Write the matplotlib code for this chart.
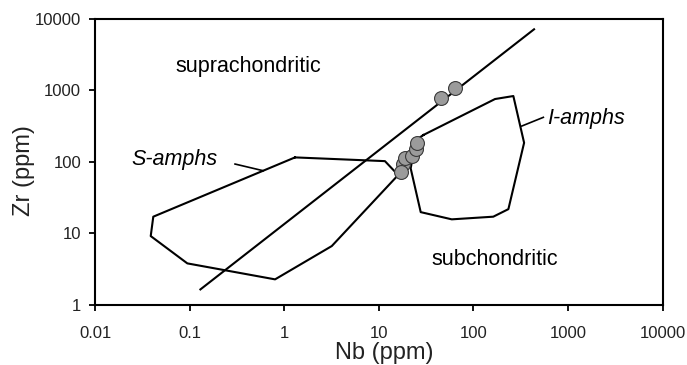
import matplotlib
matplotlib.use("Agg")
import matplotlib.pyplot as plt

plt.rcParams['font.family'] = ['Liberation Sans', 'DejaVu Sans']

# chondritic reference line (Nb, Zr)
line_nb = [0.13, 437]
line_zr = [1.65, 7070]

# S-type amphibole field outline
s_nb = [1.30, 11.6, 16.0, 3.18, 0.80, 0.0946, 0.0388, 0.0413, 1.30]
s_zr = [115, 102, 65.2, 6.65, 2.28, 3.81, 9.17, 17.1, 115]

# I-type amphibole field outline
i_nb = [29.5, 169, 264, 343, 234, 162, 59.0, 27.7, 21.7, 24.7, 29.5]
i_zr = [236, 751, 827, 184, 21.8, 17.1, 15.7, 19.8, 80.9, 201, 236]

# samples
pt_nb = [45.4, 63.9, 17.9, 18.9, 22.6, 24.5, 17.1, 25.5]
pt_zr = [783, 1070, 92, 113.7, 121, 150, 72.5, 180.7]

# leader lines for the field labels
s_lead_nb = [0.302, 0.601]
s_lead_zr = [92.9, 74.9]
i_lead_nb = [324, 548]
i_lead_zr = [315, 417]

x_ticks = [0.01, 0.1, 1, 10, 100, 1000, 10000]
x_labels = ['0.01', '0.1', '1', '10', '100', '1000', '10000']
y_ticks = [1, 10, 100, 1000, 10000]
y_labels = ['1', '10', '100', '1000', '10000']

fig = plt.figure(figsize=(6.87, 3.65), dpi=100)
ax = fig.add_axes([0.1383, 0.1644, 0.8263, 0.7849])
ax.set_xscale('log')
ax.set_yscale('log')
ax.set_xlim(0.01, 10000)
ax.set_ylim(1, 10000)

lw = 1.5
ax.plot(line_nb, line_zr, color='black', lw=lw)
ax.plot(s_nb, s_zr, color='black', lw=lw)
ax.plot(i_nb, i_zr, color='black', lw=lw)
ax.plot(s_lead_nb, s_lead_zr, color='black', lw=1.2)
ax.plot(i_lead_nb, i_lead_zr, color='black', lw=1.2)

for x, y in zip(pt_nb, pt_zr):
    ax.plot(x, y, 'o', ms=10, mfc='#9b9b9b', mec='#3a3a3a', mew=0.8)

ax.text(0.0702, 1790, 'suprachondritic', fontsize=15.5, va='baseline', ha='left')
ax.text(36.2, 3.61, 'subchondritic', fontsize=15.5, va='baseline', ha='left')
ax.text(0.0245, 89.9, 'S-amphs', fontsize=15.5, style='italic', va='baseline', ha='left')
ax.text(596, 336, 'I-amphs', fontsize=15.5, style='italic', va='baseline', ha='left')

ax.set_xticks(x_ticks)
ax.set_xticklabels(x_labels)
ax.set_yticks(y_ticks)
ax.set_yticklabels(y_labels)
ax.minorticks_off()
ax.tick_params(direction='out', length=4, width=1.3, labelsize=12,
               colors='black', labelcolor='#222222')
ax.tick_params(axis='x', pad=11)
ax.tick_params(axis='y', pad=6)

for sp in ax.spines.values():
    sp.set_linewidth(1.5)

ax.set_xlabel('Nb (ppm)', fontsize=17, color='#222222')
ax.set_ylabel('Zr (ppm)', fontsize=17, color='#222222')
ax.xaxis.set_label_coords(0.51, -0.13)
ax.yaxis.set_label_coords(-0.106, 0.47)

fig.savefig('out.png', dpi=100)
